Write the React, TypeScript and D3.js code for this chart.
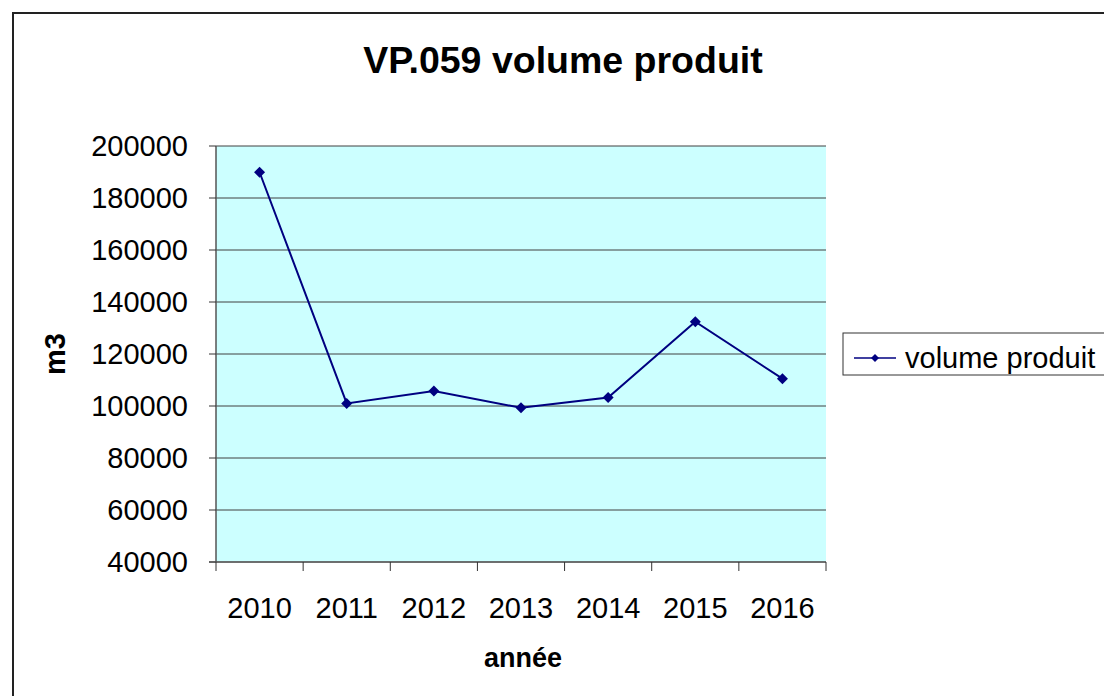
import React from "react";
import * as d3 from "d3";

const years = ["2010", "2011", "2012", "2013", "2014", "2015", "2016"];
const volumes = [189900, 101000, 105800, 99300, 103300, 132400, 110500];
const yTicks = [40000, 60000, 80000, 100000, 120000, 140000, 160000, 180000, 200000];
const title = "VP.059 volume produit";
const seriesName = "volume produit";
const xTitle = "année";
const yTitle = "m3";

export default function App() {
  const W = 1104, H = 696;
  const left = 216, right = 826, top = 146, bottom = 562;
  const x = d3.scaleBand().domain(years).range([left, right]);
  const y = d3.scaleLinear().domain([40000, 200000]).range([bottom, top]);
  const line = d3.line<number>()
    .x((_, i) => (x(years[i]) as number) + x.bandwidth() / 2)
    .y((d) => y(d));
  const font = "'Liberation Sans', Arial, sans-serif";
  const diamond = (cx: number, cy: number, r: number) =>
    `M${cx},${cy - r}L${cx + r},${cy}L${cx},${cy + r}L${cx - r},${cy}Z`;
  const xTickPos = years.map((yr) => x(yr) as number).concat([right]);
  return (
    <svg width={W} height={H} style={{ position: "fixed", left: 0, top: 0 }} fontFamily={font}>
      <rect x={0} y={0} width={W} height={H} fill="#fff" />
      <path d={`M13,${H + 5}V13H${W + 5}`} fill="none" stroke="#222" strokeWidth={2} />
      <text x={563} y={73} textAnchor="middle" fontSize={37.5} fontWeight="bold">{title}</text>
      <rect x={left} y={top} width={right - left} height={bottom - top} fill="#CCFFFF" />
      {yTicks.map((t) => (
        <line key={t} x1={left} x2={right} y1={y(t)} y2={y(t)} stroke={t === 40000 ? "#808080" : "#404040"} strokeWidth={1} />
      ))}
      <line x1={left} x2={left} y1={top} y2={bottom} stroke="#555" strokeWidth={1.5} />
      {yTicks.map((t) => (
        <g key={"yt" + t}>
          <line x1={left - 7} x2={left} y1={y(t)} y2={y(t)} stroke="#333" />
          <text x={188} y={y(t)} dy="0.36em" textAnchor="end" fontSize={29}>{t}</text>
        </g>
      ))}
      <line x1={left - 7} x2={right} y1={bottom} y2={bottom} stroke="#555" strokeWidth={1.5} />
      {xTickPos.map((p, i) => (
        <line key={"xt" + i} x1={p} x2={p} y1={bottom} y2={bottom + 9} stroke="#333" />
      ))}
      {years.map((yr) => (
        <text key={yr} x={(x(yr) as number) + x.bandwidth() / 2} y={618} textAnchor="middle" fontSize={29}>{yr}</text>
      ))}
      <text x={523} y={667} textAnchor="middle" fontSize={27} fontWeight="bold">{xTitle}</text>
      <text transform={`translate(65,354) rotate(-90)`} textAnchor="middle" fontSize={29} fontWeight="bold">{yTitle}</text>
      <path d={line(volumes) || ""} fill="none" stroke="#000080" strokeWidth={2} />
      {volumes.map((v, i) => (
        <path key={i} d={diamond((x(years[i]) as number) + x.bandwidth() / 2, y(v), 5.5)} fill="#000080" />
      ))}
      <rect x={843} y={333} width={300} height={42} fill="#fff" stroke="#333" strokeWidth={1} />
      <line x1={854} x2={896} y1={358} y2={358} stroke="#000080" strokeWidth={1.5} />
      <path d={diamond(875, 358, 4)} fill="#000080" />
      <text x={905} y={358} dy="0.36em" fontSize={29}>{seriesName}</text>
    </svg>
  );
}
